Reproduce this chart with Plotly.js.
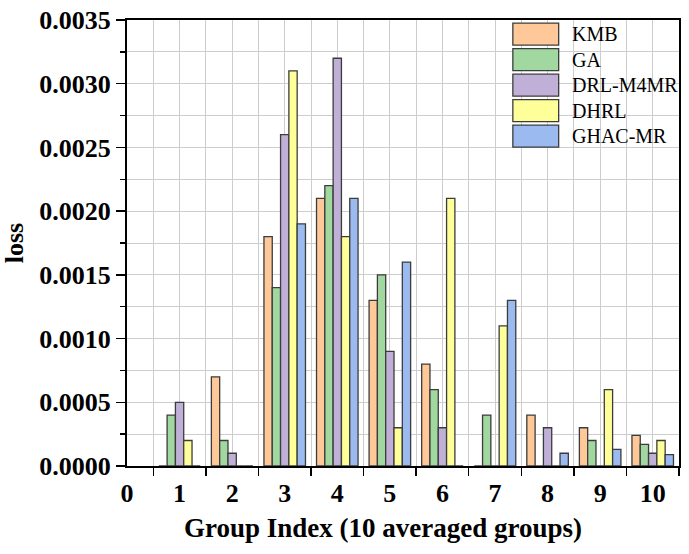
<!DOCTYPE html>
<html>
<head>
<meta charset="utf-8">
<script src="https://cdn.plot.ly/plotly-3.0.1.min.js"></script>
<style>
  html, body { margin: 0; padding: 0; background: #fff; }
  #chart { width: 689px; height: 554px; }
</style>
</head>
<body>
<div id="chart"></div>
<script>
// group index on the x axis
const groups = [1, 2, 3, 4, 5, 6, 7, 8, 9, 10];
const tickVals = [0, 1, 2, 3, 4, 5, 6, 7, 8, 9, 10];

// loss per method
const kmb    = [0, 0.0007, 0.0018, 0.0021, 0.0013, 0.0008, 0, 0.0004, 0.0003, 0.00024];
const ga     = [0.0004, 0.0002, 0.0014, 0.0022, 0.0015, 0.0006, 0.0004, 0, 0.0002, 0.00017];
const drl    = [0.0005, 0.0001, 0.0026, 0.0032, 0.0009, 0.0003, 0, 0.0003, 0, 0.0001];
const dhrl   = [0.0002, 0, 0.0031, 0.0018, 0.0003, 0.0021, 0.0011, 0, 0.0006, 0.0002];
const ghacmr = [0, 0, 0.0019, 0.0021, 0.0016, 0, 0.0013, 0.0001, 0.00013, 0.00009];

const names  = ["KMB", "GA", "DRL-M4MR", "DHRL", "GHAC-MR"];
const series = [kmb, ga, drl, dhrl, ghacmr];
const colors = ["rgb(255,200,152)", "rgb(160,216,160)", "rgb(192,176,216)", "rgb(255,255,153)", "rgb(154,186,240)"];

const SERIF = "Liberation Serif, Times New Roman, serif";
const GRID = "rgb(205,205,205)";

const data = series.map(function (vals, i) {
	return {
		type: "bar",
		name: names[i],
		x: groups,
		y: vals,
		marker: {
			color: colors[i],
			line: { color: "rgb(60,60,60)", width: 1.3 },
		},
		showlegend: false,
	};
});

// hand-drawn legend so the swatches match the big boxes of the original
const shapes = [];
const annotations = [];
const rowTop = 0.993, rowStep = 0.0572, boxH = 0.0493;
names.forEach(function (n, i) {
	const top = rowTop - i * rowStep;
	shapes.push({
		type: "rect", xref: "paper", yref: "paper",
		x0: 0.699, x1: 0.782, y0: top - boxH, y1: top,
		fillcolor: colors[i],
		line: { color: "rgb(60,60,60)", width: 1.3 },
	});
	annotations.push({
		xref: "paper", yref: "paper",
		x: 0.802, y: top - boxH / 2,
		xanchor: "left", yanchor: "middle",
		text: n, showarrow: false,
		font: { family: SERIF, size: 20, color: "#000" },
	});
});

// x axis title sits a bit left of the plot centre in the original
annotations.push({
	xref: "paper", yref: "paper",
	x: 0.464, y: -0.14,
	xanchor: "center", yanchor: "middle",
	text: "Group Index (10 averaged groups)", showarrow: false,
	font: { family: SERIF, size: 27, weight: "bold", color: "#000" },
});

const layout = {
	width: 689,
	height: 554,
	margin: { l: 127, r: 10, t: 20, b: 88 },
	paper_bgcolor: "#fff",
	plot_bgcolor: "#fff",
	barmode: "group",
	bargap: 0.21,
	bargroupgap: 0,
	showlegend: false,
	font: { family: SERIF, color: "#000" },
	xaxis: {
		range: [0, 10.5],
		tickmode: "array",
		tickvals: tickVals,
		ticktext: tickVals.map(String),
		ticks: "outside",
		ticklen: 3,
		tickcolor: "rgba(0,0,0,0)",
		tickfont: { family: SERIF, size: 26, weight: "bold" },
		showgrid: true,
		gridcolor: GRID,
		gridwidth: 1,
		minor: {
			tickmode: "linear",
			tick0: 0.5,
			dtick: 1,
			ticks: "outside",
			ticklen: 8,
			tickwidth: 1.5,
			tickcolor: "#000",
			showgrid: true,
			gridcolor: GRID,
			gridwidth: 1,
		},
		showline: true,
		linecolor: "#000",
		linewidth: 2,
		mirror: true,
		zeroline: false,
		fixedrange: true,
	},
	yaxis: {
		range: [0, 0.0035],
		dtick: 0.0005,
		tickformat: ".4f",
		ticks: "outside",
		ticklen: 9,
		tickwidth: 1.5,
		tickcolor: "#000",
		tickfont: { family: SERIF, size: 26, weight: "bold" },
		showgrid: true,
		gridcolor: GRID,
		gridwidth: 1,
		minor: {
			dtick: 0.00025,
			ticks: "outside",
			ticklen: 5,
			tickwidth: 1.5,
			tickcolor: "#000",
			showgrid: true,
			gridcolor: GRID,
			gridwidth: 1,
		},
		showline: true,
		linecolor: "#000",
		linewidth: 2,
		mirror: true,
		zeroline: false,
		fixedrange: true,
		title: {
			text: "loss",
			font: { family: SERIF, size: 26, weight: "bold" },
			standoff: 8,
		},
	},
	shapes: shapes,
	annotations: annotations,
};

Plotly.newPlot("chart", data, layout, { displayModeBar: false, staticPlot: true });
</script>
</body>
</html>
